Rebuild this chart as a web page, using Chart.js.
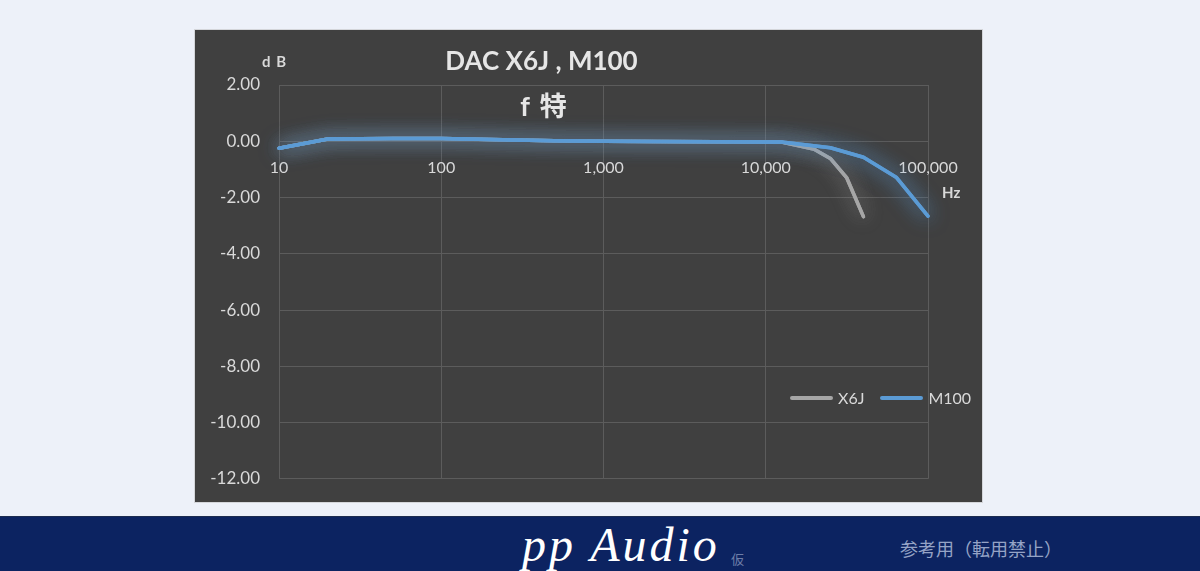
<!DOCTYPE html>
<html>
<head>
<meta charset="utf-8">
<script src="https://cdn.jsdelivr.net/npm/chart.js@4.4.0/dist/chart.umd.min.js"></script>
<style>
  html, body { margin: 0; padding: 0; }
  body { width: 1200px; height: 571px; background: #edf1f9; position: relative; overflow: hidden; font-family: Lato, "Noto Sans CJK JP", sans-serif; }
  #panel { position: absolute; left: 195px; top: 30px; width: 787px; height: 472px; background: #404040; box-shadow: 0 0 0 1px #d4d6da; overflow: hidden; }
  #panel canvas { position: absolute; left: 0; top: 0; }
  .lbl { position: absolute; white-space: nowrap; color: #e6e6e6; }
  #title { left: 0; width: 787px; top: 14px; text-align: center; font-size: 26px; font-weight: bold; transform: translateX(-47px); }
  #sub { left: 0; width: 787px; top: 55px; text-align: center; font-size: 27px; font-weight: bold; transform: translateX(-45px); word-spacing: 4px; }
  #db { left: 67px; top: 22px; font-size: 15px; font-weight: bold; color: #d9d9d9; word-spacing: 2px; }
  #hz { left: 747px; top: 153px; font-size: 15px; font-weight: bold; color: #d9d9d9; }
  #legend { position: absolute; left: 790px; top: 388px; display: flex; align-items: center; color: #d9d9d9; font-size: 16px; }
  #legend .sw { display: inline-block; width: 43px; height: 4px; border-radius: 2px; margin-right: 5px; }
  #legend .it { display: flex; align-items: center; margin-right: 16px; }
  #banner { position: absolute; left: 0; top: 516px; width: 1200px; height: 55px; background: #0c2361; border-top: 1px solid #1c2c50; }
  #logo { position: absolute; left: 522px; top: 0px; font-family: "Liberation Serif", "DejaVu Serif", serif; font-style: italic; font-size: 48px; color: #ffffff; letter-spacing: 3px; }
  #kari { position: absolute; left: 731px; top: 32px; font-size: 13px; color: #6d7ea8; font-family: "Noto Sans CJK JP", sans-serif; }
  #note { position: absolute; left: 900px; top: 18px; font-size: 18px; color: #95a3c6; font-family: "Noto Sans CJK JP", sans-serif; }
</style>
</head>
<body>
<div id="panel">
  <canvas id="fchart" width="787" height="478"></canvas>
  <div class="lbl" id="title">DAC X6J , M100</div>
  <div class="lbl" id="sub">f 特</div>
  <div class="lbl" id="db">d B</div>
  <div class="lbl" id="hz">Hz</div>
</div>
<div id="legend"></div>
<div id="banner">
  <div id="logo">pp Audio</div>
  <div id="kari">仮</div>
  <div id="note">参考用（転用禁止）</div>
</div>
<script>
// 데이터: 주파수(Hz)와 레벨(dB)
const seriesNames = ['X6J', 'M100'];
const freqX6J = [10, 20, 50, 100, 200, 500, 1000, 2000, 5000, 10000, 12500, 20000, 25000, 31500, 40000];
const dbX6J   = [-0.25, 0.08, 0.1, 0.1, 0.06, 0.02, 0.0, -0.01, -0.02, -0.03, -0.03, -0.29, -0.61, -1.29, -2.68];
const freqM100 = [10, 20, 50, 100, 200, 500, 1000, 2000, 5000, 10000, 12500, 25000, 40000, 64000, 100000];
const dbM100   = [-0.25, 0.08, 0.1, 0.1, 0.06, 0.02, 0.0, -0.01, -0.02, -0.03, -0.03, -0.23, -0.57, -1.29, -2.66];
const xTicks = [10, 100, 1000, 10000, 100000];
const yTicks = [2, 0, -2, -4, -6, -8, -10, -12];

const colors = ['#a6a6a6', '#5b9bd5'];
const glows = ['rgba(175,175,175,0.45)', 'rgba(91,155,213,0.75)'];

function toPoints(xs, ys) {
  return xs.map((x, i) => ({ x: x, y: ys[i] }));
}

// 선 주위에 엑셀 스타일의 광채 효과 (그림자를 두 번 그려서 진하게)
const glowPlugin = {
  id: 'glow',
  beforeDatasetDraw(chart, args) {
    const ds = chart.data.datasets[args.index];
    const c = chart.ctx;
    c.save();
    c.shadowColor = ds.glowColor;
    c.shadowBlur = 20;
    args.meta.controller.draw();
  },
  afterDatasetDraw(chart) {
    chart.ctx.restore();
  }
};

const gridColor = '#5c5c5c';
const tickColor = '#d9d9d9';

const chart = new Chart(document.getElementById('fchart').getContext('2d'), {
  type: 'line',
  data: {
    datasets: [
      { label: seriesNames[0], data: toPoints(freqX6J, dbX6J), borderColor: colors[0], glowColor: glows[0], order: 2 },
      { label: seriesNames[1], data: toPoints(freqM100, dbM100), borderColor: colors[1], glowColor: glows[1], order: 1 }
    ].map(d => Object.assign(d, { borderWidth: 3.5, pointRadius: 0, tension: 0, fill: false, borderCapStyle: 'round', borderJoinStyle: 'round', clip: 30 }))
  },
  options: {
    responsive: false,
    animation: false,
    layout: { padding: { top: 55, right: 54, bottom: 24, left: 0 } },
    plugins: { legend: { display: false }, tooltip: { enabled: false } },
    scales: {
      x: {
        type: 'logarithmic',
        min: 10,
        max: 100000,
        position: { y: 0 },
        afterBuildTicks: s => { s.ticks = xTicks.map(v => ({ value: v })); },
        afterFit: s => { s.height = 0; },
        grid: { color: gridColor, drawTicks: false },
        border: { display: false },
        ticks: {
          color: tickColor,
          font: { family: 'Lato', size: 16 },
          padding: 17,
          maxRotation: 0,
          autoSkip: false,
          callback: v => Number(v).toLocaleString('en-US')
        }
      },
      y: {
        min: -12,
        max: 2,
        afterBuildTicks: s => { s.ticks = yTicks.map(v => ({ value: v })); },
        afterFit: s => { s.width = 84; },
        grid: { color: gridColor, drawTicks: false },
        border: { display: false },
        ticks: {
          color: tickColor,
          font: { family: 'Lato', size: 17 },
          padding: 19,
          callback: v => Number(v).toFixed(2)
        }
      }
    }
  },
  plugins: [glowPlugin]
});

// 범례 (그림 오른쪽 아래)
const legend = document.getElementById('legend');
seriesNames.forEach((name, i) => {
  const it = document.createElement('div');
  it.className = 'it';
  it.innerHTML = '<span class="sw" style="background:' + colors[i] + '"></span>' + name;
  legend.appendChild(it);
});
</script>
</body>
</html>
